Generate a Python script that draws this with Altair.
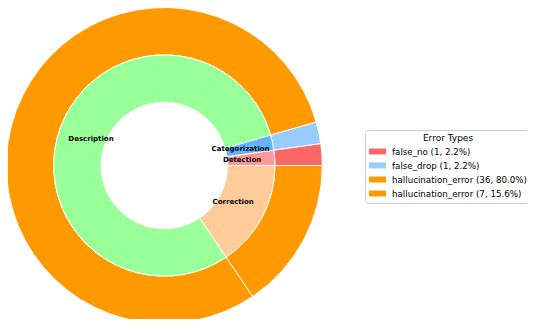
import math
import altair as alt
import pandas as pd

outer_names = ["false_no", "false_drop", "hallucination_error", "hallucination_error"]
outer_counts = [1, 1, 36, 7]
outer_colors = ["#ff6666", "#99ccff", "#ff9900", "#ff9900"]

inner_names = ["Detection", "Categorization", "Description", "Correction"]
inner_counts = [1, 1, 36, 7]
inner_colors = ["#ff9999", "#66b3ff", "#99ff99", "#ffcc99"]

total = sum(outer_counts)
outer_labels = [f"{n} ({c}, {100 * c / total:.1f}%)" for n, c in zip(outer_names, outer_counts)]

outer_df = pd.DataFrame({"label": outer_labels, "count": outer_counts, "idx": list(range(len(outer_counts)))})
inner_df = pd.DataFrame({"name": inner_names, "count": inner_counts, "idx": list(range(len(inner_counts)))})

CX, CY = 156.3, 157.5
R = 158

theta_scale = alt.Scale(range=[math.pi / 2, math.pi / 2 + 2 * math.pi])
FONT = "DejaVu Sans"

outer = alt.Chart(outer_df).mark_arc(radius=R, radius2=R * 0.7, stroke="white", strokeWidth=1).encode(
    theta=alt.Theta("count:Q", stack=True, scale=theta_scale),
    order=alt.Order("idx:Q", sort="descending"),
    color=alt.Color(
        "label:N",
        scale=alt.Scale(domain=outer_labels, range=outer_colors),
        legend=alt.Legend(
            orient="none", legendX=357, legendY=122,
            title="Error Types", titleFont=FONT, titleFontSize=9, titleFontWeight="normal",
            titleColor="black", titleAnchor="middle", titlePadding=0,
            labelFont=FONT, labelFontSize=8.7, labelColor="black", labelOffset=6, labelLimit=300,
            symbolType="M-1,-0.35L1,-0.35L1,0.35L-1,0.35Z", symbolSize=289, symbolStrokeWidth=0,
            symbolOpacity=1, rowPadding=-0.8,
            fillColor="white", strokeColor="#cccccc", cornerRadius=3, padding=4,
        ),
    ),
    x=alt.value(CX), y=alt.value(CY),
)

inner = alt.Chart(inner_df).mark_arc(radius=R * 0.7, radius2=R * 0.4, stroke="white", strokeWidth=1).encode(
    theta=alt.Theta("count:Q", stack=True, scale=theta_scale),
    order=alt.Order("idx:Q", sort="descending"),
    color=alt.Color("name:N", scale=alt.Scale(domain=inner_names, range=inner_colors), legend=None),
    x=alt.value(CX), y=alt.value(CY),
)

labels = alt.Chart(inner_df).mark_text(radius=78, font=FONT, fontSize=7, fontWeight="bold", color="black").encode(
    theta=alt.Theta("count:Q", stack=True, scale=theta_scale),
    order=alt.Order("idx:Q", sort="descending"),
    text="name:N",
    x=alt.value(CX), y=alt.value(CY),
)

chart = alt.layer(outer, inner, labels).resolve_scale(color="independent").properties(
    width=519, height=311, autosize=alt.AutoSizeParams(type="none"), padding=0
).configure_view(stroke=None)

chart.save("out.html", embed_options={"renderer": "svg", "actions": False})
